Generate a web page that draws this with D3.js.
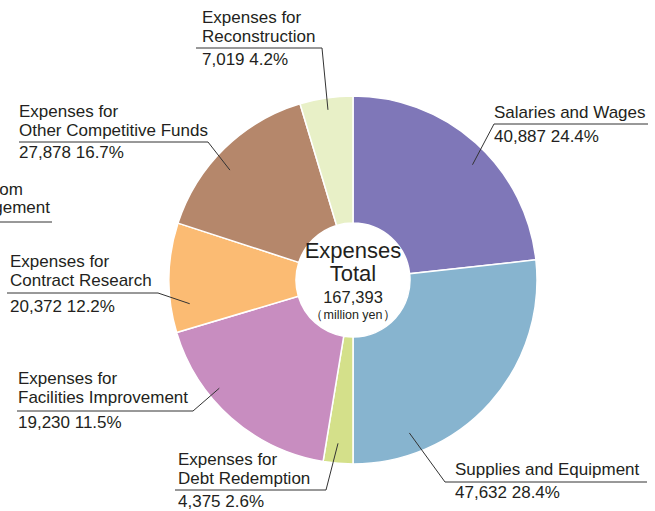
<!DOCTYPE html>
<html>
<head>
<meta charset="utf-8">
<script src="https://cdn.jsdelivr.net/npm/d3@7"></script>
<style>
  html, body { margin: 0; padding: 0; background: #fff; }
  svg { display: block; }
  text { font-family: "Liberation Sans", Arial, "DejaVu Sans", sans-serif; fill: #231f20; }
</style>
</head>
<body>
<svg id="chart" width="655" height="511"></svg>
<script>
// ---- data ----
const categories = [
  "Salaries and Wages",
  "Supplies and Equipment",
  "Expenses for Debt Redemption",
  "Expenses for Facilities Improvement",
  "Expenses for Contract Research",
  "Expenses for Other Competitive Funds",
  "Expenses for Reconstruction"
];
const labelLines = [
  ["Salaries and Wages"],
  ["Supplies and Equipment"],
  ["Expenses for", "Debt Redemption"],
  ["Expenses for", "Facilities Improvement"],
  ["Expenses for", "Contract Research"],
  ["Expenses for", "Other Competitive Funds"],
  ["Expenses for", "Reconstruction"]
];
const values = [40887, 47632, 4375, 19230, 20372, 27878, 7019];       // million yen
const percentLabels = ["24.4%", "28.4%", "2.6%", "11.5%", "12.2%", "16.7%", "4.2%"];
// slice sizes as drawn in the reference picture (percent of the circle)
const drawnShare = [23.25, 26.75, 2.6, 17.8, 9.6, 15.35, 4.65];
const totalValue = 167393;
const centerTitle = ["Expenses", "Total"];
const unitLabel = "（million yen）";
const colors = ["#7f77b8", "#87b4cf", "#d4e08a", "#c88dc0", "#fbbb73", "#b5876b", "#e8f0c7"];

// ---- layout ----
const svg = d3.select("#chart");
const cx = 353, cy = 280, rOuter = 184, rInner = 57;
const g = svg.append("g").attr("transform", `translate(${cx},${cy})`);

const pie = d3.pie().sort(null).value((d, i) => drawnShare[i]);
const arcs = pie(categories);
const arc = d3.arc().innerRadius(rInner).outerRadius(rOuter);

g.selectAll("path.slice")
  .data(arcs)
  .enter().append("path")
  .attr("class", "slice")
  .attr("d", arc)
  .attr("fill", (d, i) => colors[i])
  .attr("stroke", "#fff")
  .attr("stroke-width", 1.5);

// label placements (page coordinates)
const labelLayout = [
  { x: 494, y: 118, lh: 18.5, vy: 142, ly: 124, lx1: 494, lx2: 648, ex: 494, frac: 0.55, r: 166 },
  { x: 455, y: 475, lh: 18.5, vy: 498, ly: 482, lx1: 445, lx2: 647, ex: 445, frac: 0.79, r: 163 },
  { x: 178, y: 465, lh: 18.5, vy: 507, ly: 490, lx1: 175, lx2: 326, ex: 326, frac: 0.56, r: 164 },
  { x: 18,  y: 384, lh: 19,   vy: 428, ly: 411, lx1: 17,  lx2: 193, ex: 193, frac: 0.65, r: 172 },
  { x: 10,  y: 267, lh: 18.5, vy: 312, ly: 293, lx1: 7,   lx2: 158, ex: 158, frac: 0.24, r: 165 },
  { x: 19,  y: 117, lh: 18.5, vy: 158, ly: 142, lx1: 19,  lx2: 208, ex: 208, frac: 0.43, r: 165 },
  { x: 202, y: 23,  lh: 19,   vy: 65,  ly: 48,  lx1: 196, lx2: 322, ex: 322, frac: 0.5,  r: 172 }
];

const fmt = d3.format(",");
const labels = svg.append("g");
arcs.forEach((a, i) => {
  const L = labelLayout[i];
  const ang = a.startAngle + (a.endAngle - a.startAngle) * L.frac;
  const px = cx + L.r * Math.sin(ang), py = cy - L.r * Math.cos(ang);
  labels.append("polyline")
    .attr("points", `${L.ex},${L.ly} ${px},${py}`)
    .attr("fill", "none").attr("stroke", "#333").attr("stroke-width", 1);
  labels.append("line")
    .attr("x1", L.lx1).attr("x2", L.lx2).attr("y1", L.ly).attr("y2", L.ly)
    .attr("stroke", "#333").attr("stroke-width", 1);
  labelLines[i].forEach((t, k) => {
    labels.append("text").attr("x", L.x).attr("y", L.y + k * L.lh)
      .attr("font-size", 17).text(t);
  });
  labels.append("text").attr("x", L.x).attr("y", L.vy)
    .attr("font-size", 17).text(fmt(values[i]) + " " + percentLabels[i]);
});

// partly cut-off label at the left edge of the picture (as in the reference)
labels.append("text").attr("x", 23).attr("y", 195).attr("text-anchor", "end")
  .attr("font-size", 17).text("Expenses from");
labels.append("text").attr("x", 50).attr("y", 213).attr("text-anchor", "end")
  .attr("font-size", 17).text("Asset Management");
labels.append("line").attr("x1", 0).attr("x2", 52).attr("y1", 222).attr("y2", 222)
  .attr("stroke", "#333").attr("stroke-width", 1);

// centre text
g.append("text").attr("text-anchor", "middle").attr("y", -22)
  .attr("font-size", 22).text(centerTitle[0]);
g.append("text").attr("text-anchor", "middle").attr("y", 1)
  .attr("font-size", 22).text(centerTitle[1]);
g.append("text").attr("text-anchor", "middle").attr("y", 23)
  .attr("font-size", 16.5).text(fmt(totalValue));
g.append("text").attr("text-anchor", "middle").attr("y", 39)
  .attr("font-size", 12.5).text(unitLabel);
</script>
</body>
</html>
